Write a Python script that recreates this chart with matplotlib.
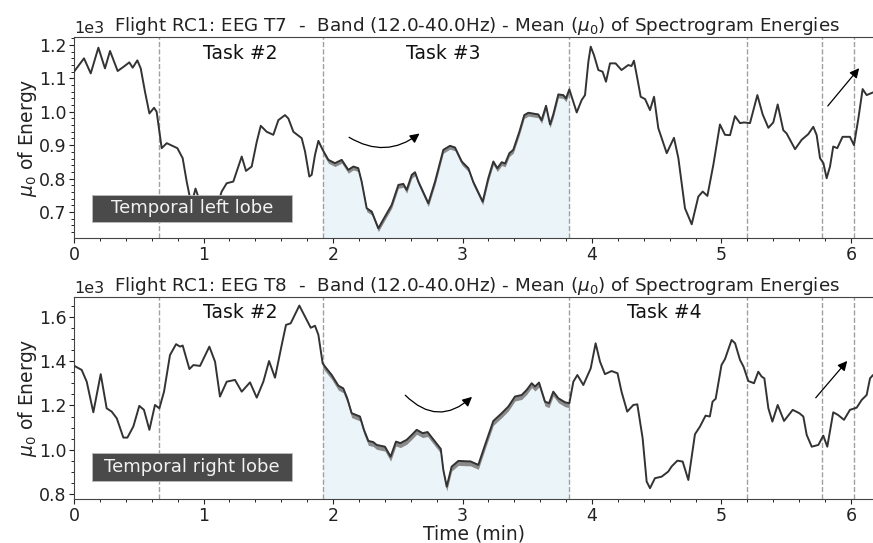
import matplotlib
matplotlib.use("Agg")
import matplotlib.pyplot as plt
import numpy as np
from matplotlib.patches import Rectangle
from matplotlib.ticker import AutoMinorLocator, MultipleLocator

# --- data (time in min, energy in raw units) ---
t7_time = [0.0, 0.077, 0.129, 0.188, 0.239, 0.278, 0.337, 0.394, 0.427, 0.453,
           0.489, 0.515, 0.548, 0.582, 0.618, 0.638, 0.659, 0.677, 0.716, 0.754,
           0.798, 0.839, 0.870, 0.896, 0.915, 0.938, 0.96, 1.0, 1.05, 1.09,
           1.127, 1.140, 1.179, 1.230, 1.295, 1.328, 1.372, 1.411, 1.442, 1.488,
           1.539, 1.578, 1.629, 1.655, 1.694, 1.758, 1.784, 1.817, 1.835, 1.861,
           1.887, 1.92, 1.964, 2.015, 2.067, 2.118, 2.157, 2.195, 2.221, 2.260,
           2.299, 2.350, 2.401, 2.453, 2.505, 2.543, 2.569, 2.608, 2.633, 2.659,
           2.736, 2.788, 2.852, 2.903, 2.942, 2.994, 3.045, 3.083, 3.156, 3.199,
           3.238, 3.269, 3.303, 3.329, 3.362, 3.392, 3.439, 3.477, 3.508, 3.585,
           3.611, 3.645, 3.676, 3.701, 3.740, 3.778, 3.799, 3.825, 3.856, 3.882,
           3.920, 3.946, 3.972, 3.990, 4.015, 4.049, 4.082, 4.108, 4.139, 4.182,
           4.228, 4.280, 4.305, 4.324, 4.350, 4.376, 4.410, 4.448, 4.479, 4.512,
           4.577, 4.633, 4.667, 4.718, 4.770, 4.821, 4.855, 4.891, 4.937, 4.988,
           5.027, 5.066, 5.104, 5.143, 5.174, 5.220, 5.277, 5.318, 5.362, 5.400,
           5.434, 5.477, 5.503, 5.568, 5.619, 5.670, 5.709, 5.735, 5.761, 5.787,
           5.812, 5.838, 5.863, 5.894, 5.935, 5.992, 6.023, 6.057, 6.090, 6.121,
           6.170]
t7_energy = [1120, 1160, 1115, 1192, 1130, 1182, 1122, 1138, 1148, 1132,
             1154, 1130, 1060, 995, 1012, 1000, 940, 891, 906, 899,
             891, 861, 791, 741, 735, 770, 745, 705, 700, 720,
             745, 761, 786, 791, 866, 823, 836, 910, 958, 940,
             931, 975, 990, 980, 940, 921, 881, 806, 811, 871,
             913, 886, 856, 846, 856, 826, 836, 831, 791, 711,
             701, 651, 686, 721, 781, 784, 766, 811, 819, 791,
             726, 791, 886, 898, 893, 851, 831, 790, 731, 801,
             851, 831, 849, 845, 876, 886, 940, 990, 997, 992,
             975, 1018, 962, 992, 1052, 1050, 1040, 1067, 1030, 998,
             1035, 1050, 1150, 1195, 1170, 1125, 1120, 1090, 1145, 1145,
             1125, 1140, 1137, 1153, 1100, 1045, 1038, 1005, 1045, 951,
             876, 922, 861, 711, 663, 746, 761, 748, 841, 962,
             931, 930, 987, 966, 968, 966, 1050, 992, 952, 968,
             1022, 945, 935, 888, 916, 933, 955, 930, 861, 846,
             801, 836, 896, 891, 925, 925, 900, 980, 1068, 1050,
             1058]

t8_time = [0.0, 0.059, 0.098, 0.149, 0.206, 0.252, 0.291, 0.330, 0.381, 0.412,
           0.458, 0.504, 0.540, 0.582, 0.625, 0.659, 0.695, 0.741, 0.788, 0.819,
           0.839, 0.891, 0.922, 0.973, 1.045, 1.089, 1.127, 1.179, 1.243, 1.295,
           1.359, 1.411, 1.462, 1.506, 1.552, 1.604, 1.637, 1.673, 1.740, 1.784,
           1.828, 1.861, 1.887, 1.92, 1.938, 1.990, 2.041, 2.079, 2.110, 2.144,
           2.208, 2.239, 2.273, 2.31, 2.337, 2.401, 2.445, 2.486, 2.52, 2.569,
           2.608, 2.646, 2.692, 2.73, 2.788, 2.832, 2.852, 2.878, 2.916, 2.968,
           3.032, 3.06, 3.122, 3.174, 3.238, 3.303, 3.354, 3.405, 3.457, 3.496,
           3.534, 3.56, 3.591, 3.637, 3.668, 3.701, 3.740, 3.792, 3.825, 3.856,
           3.887, 3.933, 3.990, 4.028, 4.062, 4.100, 4.151, 4.197, 4.228, 4.272,
           4.319, 4.35, 4.391, 4.422, 4.448, 4.486, 4.538, 4.589, 4.615, 4.659,
           4.70, 4.744, 4.795, 4.834, 4.877, 4.91, 4.931, 4.955, 5.000, 5.027,
           5.078, 5.105, 5.143, 5.17, 5.207, 5.251, 5.284, 5.31, 5.331, 5.362,
           5.393, 5.434, 5.483, 5.550, 5.601, 5.632, 5.658, 5.697, 5.748, 5.786,
           5.817, 5.863, 5.90, 5.946, 5.992, 6.044, 6.083, 6.121, 6.147, 6.170]
t8_energy = [1379, 1360, 1307, 1169, 1341, 1187, 1172, 1142, 1055, 1055,
             1105, 1198, 1180, 1090, 1202, 1187, 1262, 1427, 1476, 1465,
             1470, 1364, 1382, 1378, 1465, 1397, 1240, 1307, 1315, 1262,
             1304, 1235, 1307, 1400, 1325, 1473, 1563, 1570, 1650, 1600,
             1550, 1559, 1518, 1390, 1375, 1337, 1289, 1277, 1232, 1165,
             1150, 1090, 1040, 1035, 1022, 1014, 969, 1037, 1030, 1045,
             1067, 1090, 1075, 1080, 1037, 1004, 909, 834, 924, 950,
             948, 948, 932, 1022, 1130, 1165, 1195, 1240, 1247, 1270,
             1300, 1285, 1303, 1217, 1210, 1262, 1232, 1214, 1210, 1307,
             1337, 1292, 1367, 1480, 1397, 1341, 1355, 1345, 1262, 1172,
             1202, 1205, 1052, 857, 827, 872, 879, 902, 925, 951,
             947, 864, 1070, 1105, 1154, 1150, 1217, 1230, 1382, 1409,
             1495, 1480, 1405, 1375, 1310, 1300, 1352, 1330, 1322, 1187,
             1127, 1202, 1130, 1180, 1165, 1150, 1067, 1014, 1022, 1064,
             1014, 1169, 1157, 1135, 1180, 1190, 1225, 1247, 1322, 1337]

event_times = [0.657, 1.92, 3.825, 5.20, 5.78, 6.02]
focus_window = (1.92, 3.825)

panels = [
    {"channel": "T7", "time": t7_time, "energy": t7_energy,
     "ylim": (622, 1224), "ystep": 100, "band": (10, 3),
     "lobe": "Temporal left lobe", "lobe_box": (0.0225, 0.080, 0.25, 0.134),
     "tasks": [(1.28, "Task #2"), (2.85, "Task #3")],
     "curved_arrow": ((2.106, 928), (2.685, 940), 0.36),
     "straight_arrow": ((5.807, 1011), (6.077, 1137))},
    {"channel": "T8", "time": t8_time, "energy": t8_energy,
     "ylim": (777, 1690), "ystep": 200, "band": (20, 4),
     "lobe": "Temporal right lobe", "lobe_box": (0.0225, 0.090, 0.25, 0.140),
     "tasks": [(1.28, "Task #2"), (4.56, "Task #4")],
     "curved_arrow": ((2.543, 1255), (3.089, 1247), 0.5),
     "straight_arrow": ((5.714, 1225), (5.985, 1410))},
]

LINE_COLOR = "#333333"
SHADE_COLOR = "#ebf5f9"
BAND_COLOR = "#8a8a8a"
EVENT_COLOR = "#a0a0a0"
TEXT_COLOR = "#222222"
BOX_COLOR = "#4a4a4a"


def draw_panel(ax, p, show_xlabel):
    t = np.array(p["time"])
    e = np.array(p["energy"], dtype=float)
    ymin, ymax = p["ylim"]
    lo, hi = p["band"]

    mask = (t >= focus_window[0]) & (t <= focus_window[1])
    ax.fill_between(t[mask], ymin, e[mask], color=SHADE_COLOR, lw=0, zorder=1)
    ax.fill_between(t[mask], e[mask] - lo, e[mask] + hi, color=BAND_COLOR,
                    lw=0, zorder=2)
    ax.plot(t, e, color=LINE_COLOR, lw=1.4, zorder=3,
            solid_joinstyle="round", solid_capstyle="round")

    for ev in event_times:
        ax.axvline(ev, color=EVENT_COLOR, ls="--", lw=1.0, zorder=2)

    for x, label in p["tasks"]:
        ax.text(x, 0.92, label, transform=ax.get_xaxis_transform(),
                ha="center", va="center", fontsize=13.5, color="#111111")

    # dark label box for the lobe name
    bx, by, bw, bh = p["lobe_box"]
    ax.add_patch(Rectangle((bx, by), bw, bh, transform=ax.transAxes,
                           fc=BOX_COLOR, ec="#bbbbbb", lw=0.6, zorder=5))
    ax.text(bx + bw / 2, by + bh / 2, p["lobe"], transform=ax.transAxes,
            ha="center", va="center", fontsize=13, color="#f2f2f2", zorder=6)

    (x0, y0), (x1, y1), rad = p["curved_arrow"]
    ax.annotate("", xy=(x1, y1), xytext=(x0, y0),
                arrowprops=dict(arrowstyle="-|>", color="black", lw=0.9,
                                connectionstyle=f"arc3,rad={rad}",
                                mutation_scale=14))
    (x0, y0), (x1, y1) = p["straight_arrow"]
    ax.annotate("", xy=(x1, y1), xytext=(x0, y0),
                arrowprops=dict(arrowstyle="-|>", color="black", lw=0.9,
                                mutation_scale=14))

    ax.set_xlim(0, 6.17)
    ax.set_ylim(ymin, ymax)
    ax.yaxis.set_major_locator(MultipleLocator(p["ystep"]))
    ax.ticklabel_format(axis="y", style="sci", scilimits=(3, 3))
    ax.xaxis.set_minor_locator(AutoMinorLocator())
    ax.yaxis.set_minor_locator(AutoMinorLocator())
    ax.tick_params(labelsize=12.5, colors=TEXT_COLOR, pad=2)
    ax.tick_params(which="minor", length=2.5)
    ax.yaxis.get_offset_text().set_fontsize(11.5)
    ax.spines["right"].set_visible(False)
    for s in ("left", "bottom", "top"):
        ax.spines[s].set_color("#444444")

    ax.set_title(f"Flight RC1: EEG {p['channel']}  -  Band (12.0-40.0Hz) - "
                 r"Mean ($\mu_0$) of Spectrogram Energies", fontsize=13.2,
                 color=TEXT_COLOR, pad=4, x=0.505)
    ax.set_ylabel(r"$\mu_0$ of Energy", fontsize=13.5, color=TEXT_COLOR,
                  labelpad=0)
    if show_xlabel:
        ax.set_xlabel("Time (min)", fontsize=13.5, color=TEXT_COLOR,
                      labelpad=0)


def main():
    fig = plt.figure(figsize=(8.73, 5.43), dpi=100)
    ax_top = fig.add_axes([0.0848, 0.5617, 0.9152, 0.3702])
    ax_bot = fig.add_axes([0.0848, 0.0805, 0.9152, 0.3731])
    draw_panel(ax_top, panels[0], show_xlabel=False)
    draw_panel(ax_bot, panels[1], show_xlabel=True)
    fig.savefig("out.png", dpi=100)
    plt.close(fig)


if __name__ == "__main__":
    main()
